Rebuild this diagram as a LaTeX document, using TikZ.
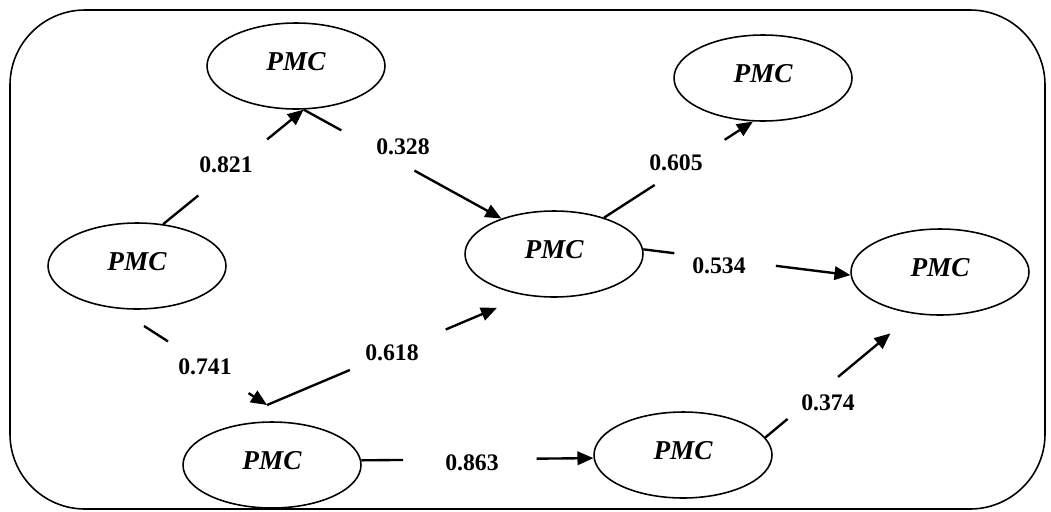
\documentclass[tikz,border=0pt]{standalone}
\usepackage{fontspec}
\setmainfont{Liberation Serif}
\usetikzlibrary{arrows.meta,shapes,calc}

\begin{document}
\begin{tikzpicture}
  [x=0.02cm, y=-0.02cm,
  every node/.style={inner sep=0pt},
  pmc/.style={ellipse, draw, line width=0.9pt, minimum width=3.56cm, minimum height=1.72cm,
    text depth=0.2cm, font=\fontsize{15.5}{18}\selectfont\bfseries\itshape},
  val/.style={font=\fontsize{13.5}{16}\selectfont\bfseries},
  link/.style={line width=1.35pt, -{Triangle[length=0.32cm,width=0.27cm]}},
  gap/.style 2 args={to path={-- ($(\tikztostart)!#1!(\tikztotarget)$)
    ($(\tikztostart)!#2!(\tikztotarget)$) -- (\tikztotarget)}},
 ]
  \useasboundingbox (0,0) rectangle (1051,511);
  \draw[line width=0.9pt, rounded corners=1.5cm] (10,10) rectangle (1045,509);

  \node[pmc] (l) at (137,266) {PMC};
  \node[pmc] (tl) at (296,66) {PMC};
  \node[pmc] (tr) at (763,78) {PMC};
  \node[pmc] (ce) at (554,254) {PMC};
  \node[pmc] (ri) at (940,272) {PMC};
  \node[pmc] (bl) at (272,465) {PMC};
  \node[pmc] (bm) at (683,455) {PMC};
  \coordinate (jn) at (267,405);
  \coordinate (st) at ($(l.-115)!0.64cm!(jn)$);

  \draw[link] (l.58) to[gap={.25}{.74}] (tl.-80);
  \draw[link] (tl.-80) to[gap={.19}{.56}] (ce.146);
  \draw[link] (ce.36) to[gap={.34}{.81}] (tr.-103);
  \draw[link] (ce.3) to[gap={.15}{.64}] (ri.182);
  \draw[link] (st) to[gap={.195}{.85}] (jn);
  \draw[link, shorten >=0.63cm] (jn) to[gap={.32}{.69}] (ce.-124);
  \draw[link] (bl.3) to[gap={.18}{.755}] (bm.182);
  \draw[link, shorten >=0.61cm] (bm.12) to[gap={.15}{.49}] (ri.-122);

  \node[val] (v821) at (226,165) {0.821};
  \node[val] (v328) at (403,147) {0.328};
  \node[val] (v605) at (676,163) {0.605};
  \node[val] (v534) at (719,266) {0.534};
  \node[val] (v741) at (205,367) {0.741};
  \node[val] (v618) at (392,353) {0.618};
  \node[val] (v863) at (472,463) {0.863};
  \node[val] (v374) at (828,403) {0.374};
\end{tikzpicture}
\end{document}
